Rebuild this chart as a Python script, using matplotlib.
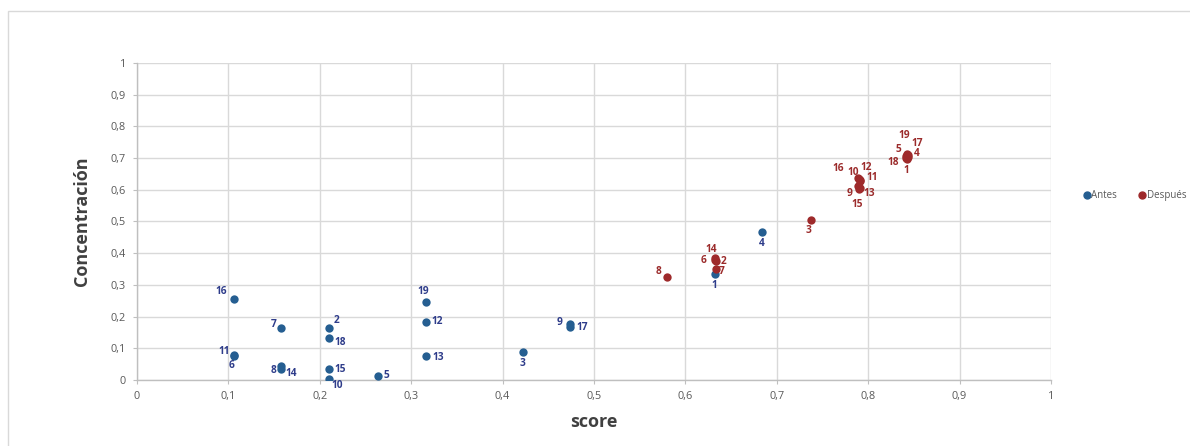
#!/usr/bin/env python3
"""Scatter of concentracion vs score, antes / despues, labelled by sample id."""

import matplotlib
matplotlib.use("Agg")
import matplotlib.pyplot as plt
import matplotlib.ticker as mticker
from matplotlib.patches import Rectangle
from matplotlib.lines import Line2D

# ---------------------------------------------------------------------------
# Data
# ---------------------------------------------------------------------------
ids = list(range(1, 20))

antes_x = [0.632, 0.210, 0.422, 0.684, 0.264, 0.106, 0.158, 0.158, 0.474, 0.210,
           0.106, 0.316, 0.316, 0.158, 0.210, 0.106, 0.474, 0.210, 0.316]
antes_y = [0.335, 0.165, 0.088, 0.468, 0.014, 0.075, 0.165, 0.045, 0.177, 0.002,
           0.078, 0.184, 0.077, 0.035, 0.035, 0.256, 0.167, 0.134, 0.247]

despues_x = [0.842, 0.633, 0.737, 0.844, 0.841, 0.632, 0.633, 0.580, 0.789, 0.790,
             0.791, 0.791, 0.791, 0.632, 0.790, 0.789, 0.843, 0.841, 0.842]
despues_y = [0.697, 0.374, 0.506, 0.704, 0.706, 0.377, 0.351, 0.326, 0.612, 0.634,
             0.628, 0.632, 0.606, 0.385, 0.604, 0.636, 0.710, 0.699, 0.712]

# label offsets in pixels (dx, dy), per id
antes_off = [(0, -12), (8, 7), (0, -11), (0, -12), (8, 0), (-2, -9), (-8, 3),
             (-8, -5), (-11, 1), (8, -6), (-10, 4), (11, 0), (12, -2), (10, -5),
             (11, -1), (-13, 7), (12, 0), (11, -5), (-3, 10)]
despues_off = [(0, -11), (8, 0), (-2, -11), (8, 3), (-7, 7), (-11, 0), (6, -3),
               (-9, 5), (-9, -8), (-6, 7), (12, 3), (6, 12), (9, -6), (-3, 8),
               (-2, -16), (-20, 10), (10, 11), (-12, -4), (-2, 19)]

# ---------------------------------------------------------------------------
# Style
# ---------------------------------------------------------------------------
c_antes = "#255E91"
c_despues = "#9E2A2B"
lab_antes = "#2E3C8A"
lab_despues = "#9B2B2B"
grid_c = "#D9D9D9"
txt_c = "#595959"
font = ["Open Sans", "DejaVu Sans"]

plt.rcParams["font.family"] = font

fig = plt.figure(figsize=(11.9, 4.46), dpi=100)
ax = fig.add_axes([137 / 1190, 1 - 380 / 446, 914 / 1190, 317 / 446])

# outer chart border (only top/left visible in the crop)
fig.patches.append(Rectangle((8 / 1190, -0.2), 1.3, 0.2 + 1 - 11 / 446,
                             transform=fig.transFigure, fill=False,
                             edgecolor=grid_c, linewidth=1.0))

ax.scatter(antes_x, antes_y, s=36, color=c_antes, zorder=3, linewidths=0)
ax.scatter(despues_x, despues_y, s=36, color=c_despues, zorder=4, linewidths=0)

for i, x, y, (dx, dy) in zip(ids, antes_x, antes_y, antes_off):
    ax.annotate(str(i), (x, y), xytext=(dx, dy), textcoords="offset pixels",
                ha="center", va="center", fontsize=7.3, fontweight="bold",
                color=lab_antes, zorder=5, annotation_clip=False)
for i, x, y, (dx, dy) in zip(ids, despues_x, despues_y, despues_off):
    ax.annotate(str(i), (x, y), xytext=(dx, dy), textcoords="offset pixels",
                ha="center", va="center", fontsize=7.3, fontweight="bold",
                color=lab_despues, zorder=5, annotation_clip=False)

ax.set_xlim(0, 1)
ax.set_ylim(0, 1)
ax.xaxis.set_major_locator(mticker.MultipleLocator(0.1))
ax.yaxis.set_major_locator(mticker.MultipleLocator(0.1))
fmt = mticker.FuncFormatter(lambda v, p: ("%g" % round(v, 1)).replace(".", ","))
ax.xaxis.set_major_formatter(fmt)
ax.yaxis.set_major_formatter(fmt)
ax.grid(True, color=grid_c, linewidth=1.0, zorder=0)
ax.set_axisbelow(True)
for s in ["top", "right"]:
    ax.spines[s].set_visible(False)
for s in ["left", "bottom"]:
    ax.spines[s].set_color("#BFBFBF")
    ax.spines[s].set_linewidth(1.0)
ax.tick_params(axis="both", length=3, color="#BFBFBF", labelsize=7.8,
               labelcolor=txt_c, pad=5)

ax.set_xlabel("score", fontsize=13, fontweight="bold", color="#404040", labelpad=8)
ax.set_ylabel("Concentración", fontsize=13, fontweight="bold", color="#404040",
              labelpad=14)

handles = [Line2D([], [], marker="o", ls="", color=c_antes, markersize=5),
           Line2D([], [], marker="o", ls="", color=c_despues, markersize=5)]
fig.legend(handles, ["Antes", "Después"], loc="center left",
           bbox_to_anchor=(1073 / 1190, 1 - 196 / 446), ncol=2, frameon=False,
           fontsize=7, handletextpad=0.0, columnspacing=2.0, handlelength=1.0,
           labelcolor=txt_c)

fig.savefig("out.png", dpi=100, facecolor="white")
